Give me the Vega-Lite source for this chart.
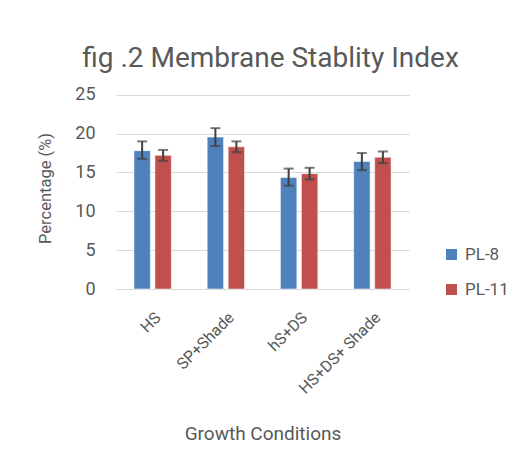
{
  "$schema": "https://vega.github.io/schema/vega-lite/v6.json",
  "width": 293,
  "height": 202,
  "autosize": {"type": "none"},
  "padding": {"left": 116, "top": 87, "right": 111, "bottom": 184},
  "background": "white",
  "title": {
    "text": "fig .2 Membrane Stablity Index",
    "font": "Roboto",
    "fontSize": 28,
    "fontWeight": "normal",
    "color": "#595959",
    "anchor": "middle",
    "frame": "group",
    "dx": 8,
    "offset": 13
  },
  "data": {
    "values": [
      {"cond": "HS", "variety": "PL-8", "value": 17.8, "lo": 16.75, "hi": 19.0},
      {"cond": "HS", "variety": "PL-11", "value": 17.2, "lo": 16.5, "hi": 17.9},
      {"cond": "SP+Shade", "variety": "PL-8", "value": 19.55, "lo": 18.4, "hi": 20.7},
      {"cond": "SP+Shade", "variety": "PL-11", "value": 18.3, "lo": 17.6, "hi": 19.0},
      {"cond": "hS+DS", "variety": "PL-8", "value": 14.35, "lo": 13.3, "hi": 15.5},
      {"cond": "hS+DS", "variety": "PL-11", "value": 14.85, "lo": 14.1, "hi": 15.6},
      {"cond": "HS+DS+ Shade", "variety": "PL-8", "value": 16.4, "lo": 15.3, "hi": 17.5},
      {"cond": "HS+DS+ Shade", "variety": "PL-11", "value": 16.95, "lo": 16.2, "hi": 17.7}
    ]
  },
  "encoding": {
    "x": {
      "field": "cond",
      "type": "nominal",
      "sort": ["HS", "SP+Shade", "hS+DS", "HS+DS+ Shade"],
      "scale": {"paddingInner": 0.49, "paddingOuter": 0.245},
      "axis": {
        "title": "Growth Conditions",
        "titleFont": "Roboto",
        "titleFontSize": 19,
        "titleFontWeight": "normal",
        "titleColor": "#595959",
        "titlePadding": 28,
        "labelAngle": -45,
        "labelFont": "Roboto",
        "labelFontSize": 16,
        "labelColor": "#595959",
        "labelPadding": 20,
        "ticks": false,
        "domainColor": "#d9d9d9",
        "domainWidth": 1
      }
    },
    "xOffset": {
      "field": "variety",
      "type": "nominal",
      "sort": ["PL-8", "PL-11"],
      "scale": {"paddingInner": 0.22}
    }
  },
  "layer": [
    {
      "mark": {"type": "bar", "stroke": "white", "strokeWidth": 0.5},
      "encoding": {
        "y": {
          "field": "value",
          "type": "quantitative",
          "scale": {"domain": [0, 25]},
          "axis": {
            "title": "Percentage (%)",
            "titleFont": "Roboto",
            "titleFontSize": 16.5,
            "titleFontWeight": "normal",
            "titleColor": "#595959",
            "titlePadding": 21,
            "values": [0, 5, 10, 15, 20, 25],
            "labelFont": "Roboto",
            "labelFontSize": 18,
            "labelColor": "#595959",
            "labelPadding": 21,
            "ticks": false,
            "domain": false,
            "gridColor": "#d9d9d9",
            "gridWidth": 1
          }
        },
        "color": {
          "field": "variety",
          "type": "nominal",
          "sort": ["PL-8", "PL-11"],
          "scale": {"domain": ["PL-8", "PL-11"], "range": ["#4f81bd", "#c0504d"]},
          "legend": {
            "title": null,
            "orient": "none",
            "legendX": 327,
            "legendY": 159,
            "padding": 0,
            "symbolType": "square",
            "symbolSize": 121,
            "symbolStrokeWidth": 0,
            "labelFont": "Roboto",
            "labelFontSize": 17,
            "labelColor": "#595959",
            "labelOffset": 5,
            "rowPadding": 17
          }
        }
      }
    },
    {
      "mark": {"type": "rule", "color": "#404040", "strokeWidth": 2},
      "encoding": {
        "y": {"field": "lo", "type": "quantitative"},
        "y2": {"field": "hi"}
      }
    },
    {
      "mark": {"type": "tick", "color": "#404040", "thickness": 2, "size": 10},
      "encoding": {"y": {"field": "lo", "type": "quantitative"}}
    },
    {
      "mark": {"type": "tick", "color": "#404040", "thickness": 2, "size": 10},
      "encoding": {"y": {"field": "hi", "type": "quantitative"}}
    }
  ],
  "config": {"view": {"stroke": null}}
}
